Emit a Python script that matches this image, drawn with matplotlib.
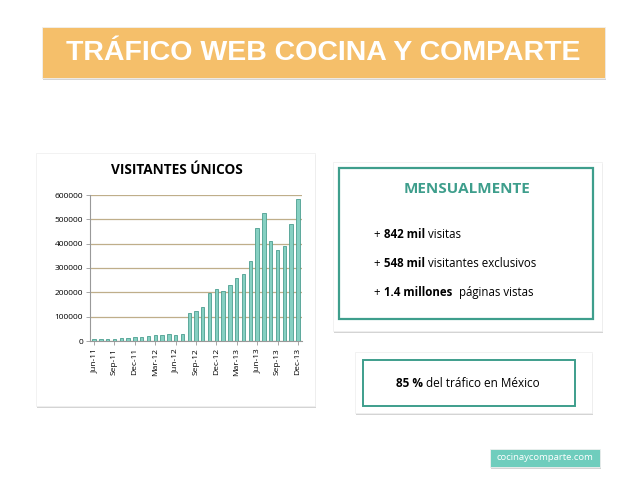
import matplotlib.pyplot as plt
from matplotlib.patches import Rectangle

# monthly unique visitors, Jun-11 .. Dec-13
months = ['Jun-11', 'Jul-11', 'Aug-11', 'Sep-11', 'Oct-11', 'Nov-11', 'Dec-11',
          'Jan-12', 'Feb-12', 'Mar-12', 'Apr-12', 'May-12', 'Jun-12', 'Jul-12',
          'Aug-12', 'Sep-12', 'Oct-12', 'Nov-12', 'Dec-12', 'Jan-13', 'Feb-13',
          'Mar-13', 'Apr-13', 'May-13', 'Jun-13', 'Jul-13', 'Aug-13', 'Sep-13',
          'Oct-13', 'Nov-13', 'Dec-13']
visitors = [7000, 7000, 7000, 9000, 11000, 12000, 16000,
            16000, 20000, 25000, 25000, 29000, 24000, 28000,
            117000, 125000, 140000, 199000, 212000, 204000, 229000,
            260000, 274000, 327000, 463000, 528000, 413000, 376000,
            391000, 479000, 585000]
yticks = [0, 100000, 200000, 300000, 400000, 500000, 600000]

W, H = 638, 479
fig = plt.figure(figsize=(W / 100, H / 100), dpi=100)
fig.patch.set_facecolor('white')

# background canvas in pixel coords
bg = fig.add_axes([0, 0, 1, 1])
bg.set_xlim(0, W)
bg.set_ylim(H, 0)
bg.axis('off')


def card(x0, y0, x1, y1, face='white', shadow=True, z=1):
    if shadow:
        bg.add_patch(Rectangle((x0 + 1, y0 + 2), x1 - x0, y1 - y0,
                               facecolor='#d4d4d4', edgecolor='none', zorder=z))
    bg.add_patch(Rectangle((x0, y0), x1 - x0, y1 - y0,
                           facecolor=face, edgecolor='#f0f0f0', lw=0.6, zorder=z + 1))


def rich(x, y, parts, size):
    # parts: list of (text, bold, gap after); y is the baseline
    for txt, bold, gap in parts:
        t = bg.text(x, y, txt, fontsize=size, family='Open Sans',
                    fontweight='bold' if bold else 'normal', va='baseline', zorder=5)
        fig.canvas.draw()
        x += t.get_window_extent().width + gap


# title banner
card(42, 27, 605, 78, face='#F5BF6A')
bg.text(323, 53, 'TRÁFICO WEB COCINA Y COMPARTE', color='white', fontsize=20.5,
        fontweight='bold', family='Liberation Sans', ha='center', va='center', zorder=5)

# chart card
card(36, 153, 315, 406)
bg.text(177, 170, 'VISITANTES ÚNICOS', fontsize=9.8, fontweight='bold',
        family='Open Sans', ha='center', va='center', zorder=5)

# right cards
card(333, 162, 602, 331)
bg.add_patch(Rectangle((339, 168), 254, 151, facecolor='none', edgecolor='#3E9E8C',
                       lw=1.6, zorder=4))
bg.text(467, 189, 'MENSUALMENTE', color='#3E9E8C', fontsize=11, fontweight='bold',
        family='Open Sans', ha='center', va='center', zorder=5)

rich(373, 238, [('+', False, 4.5), ('842 mil', True, 2.5), ('visitas', False, 0)], 8.3)
rich(373, 267, [('+', False, 4.5), ('548 mil', True, 2.5), ('visitantes exclusivos', False, 0)], 8.3)
rich(373, 296, [('+', False, 4.5), ('1.4 millones', True, 7), ('páginas vistas', False, 0)], 8.3)

card(355, 352, 592, 413)
bg.add_patch(Rectangle((363, 360), 212, 46, facecolor='none', edgecolor='#3E9E8C',
                       lw=1.4, zorder=4))
rich(396, 387, [('85 %', True, 3), ('del tráfico en México', False, 0)], 8.5)

# footer tag
card(490, 449, 600, 467, face='#6FCDBD')
bg.text(545, 458, 'cocinaycomparte.com', color='white', fontsize=6.8,
        family='Open Sans', ha='center', va='center', zorder=5)

# bar chart
ax = fig.add_axes([90 / W, 1 - 341 / H, 212 / W, 146 / H])
x = range(len(months))
ax.bar(x, visitors, width=0.5, color='#86D0C2', edgecolor='#4C9F90', lw=0.6, zorder=3)
ax.set_ylim(0, 600000)
ax.set_xlim(-0.6, len(months) - 0.4)
ax.set_yticks(yticks)
ax.set_yticklabels([str(v) for v in yticks], fontsize=6, family='Open Sans')
ax.set_xticks(list(x)[::3])
ax.set_xticklabels(months[::3], rotation=90, fontsize=6, family='Open Sans')
ax.grid(axis='y', color='#BFAE8A', lw=0.9, zorder=0)
for s in ['top', 'right']:
    ax.spines[s].set_visible(False)
ax.spines['left'].set_color('#999999')
ax.spines['bottom'].set_color('#999999')
ax.tick_params(length=3, width=0.6, color='#999999', pad=2)

fig.savefig('out.png', dpi=100)
